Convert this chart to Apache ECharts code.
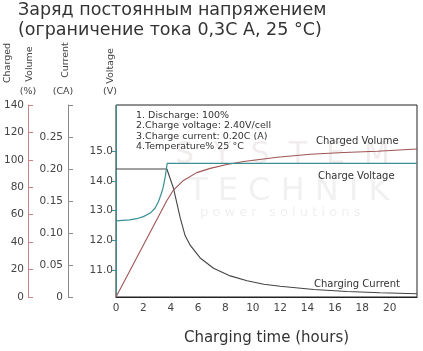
<!DOCTYPE html>
<html>
<head>
<meta charset="utf-8">
<script src="https://cdn.jsdelivr.net/npm/echarts@6/dist/echarts.min.js"></script>
<style>
  body { margin: 0; background: #fff; }
  #main { width: 423px; height: 351px; }
</style>
</head>
<body>
<div id="main"></div>
<script>
// часы / значения
var voltHours = [0, 1, 1.5, 2, 2.5, 2.85, 3.1, 3.27, 3.42, 3.52, 3.61, 3.68, 3.74, 22]
var voltValues = [12.66, 12.69, 12.73, 12.8, 12.92, 13.08, 13.3, 13.52, 13.73, 13.95, 14.17, 14.39, 14.59, 14.59]

var currHours = [0, 3.72, 4.2, 4.69, 5.05, 5.42, 6.15, 7.13, 8.35, 9.58, 10.8, 12.0, 14.45, 16.9, 19.3, 22]
var currValues = [0.2, 0.2, 0.17, 0.124, 0.096, 0.081, 0.061, 0.045, 0.033, 0.0255, 0.02, 0.0168, 0.0118, 0.0087, 0.0066, 0.005]

var volHours = [0, 3.7, 4.2, 4.93, 5.9, 6.89, 8.1, 9.33, 11.8, 14.2, 16.65, 19.1, 22]
var volValues = [0, 70, 78, 85, 90.7, 93.8, 96.6, 98.8, 101.9, 104.1, 105.4, 106.3, 107.9]

var voltTicks = [11, 12, 13, 14, 15]
var currTicks = [0, 0.05, 0.1, 0.15, 0.2, 0.25, 0.3]
var currLabels = [0, 0.05, 0.1, 0.15, 0.2, 0.25]

var notes = [
  '1. Discharge: 100%',
  '2.Charge voltage: 2.40V/cell',
  '3.Charge current: 0.20C (A)',
  '4.Temperature% 25 °C'
]

function pairs (xs, ys) {
  var out = []
  for (var i = 0; i < xs.length; i++) {
    out.push([xs[i], ys[i]])
  }
  return out
}

var font = 'DejaVu Sans'
var teal = '#3a8f95'
var red = '#a05454'
var dark = '#444'

var chart = echarts.init(document.getElementById('main'))
chart.setOption({
  animation: false,
  textStyle: { fontFamily: font },
  grid: {
    left: 116, right: 6, top: 105, bottom: 50,
    show: true, borderColor: '#222', borderWidth: 1
  },
  xAxis: {
    type: 'value',
    min: 0, max: 22, interval: 2,
    name: 'Charging time (hours)',
    nameLocation: 'middle',
    nameGap: 34,
    nameTextStyle: { fontSize: 15, color: '#333', fontFamily: font },
    axisLine: { lineStyle: { color: '#222' } },
    axisTick: { show: false },
    splitLine: { show: false },
    axisLabel: {
      color: '#444', fontSize: 10.5, margin: 6,
      formatter: function (v) { return v === 22 ? '' : v }
    }
  },
  yAxis: [
    { // напряжение
      type: 'value', position: 'left', offset: 0,
      min: 10.1, max: 16.55,
      axisLine: { show: true, lineStyle: { color: teal } },
      axisTick: { show: true, inside: false, length: 5, customValues: voltTicks, lineStyle: { color: teal } },
      axisLabel: {
        color: '#444', fontSize: 10.5, margin: 3, customValues: voltTicks,
        formatter: function (v) { return v.toFixed(1) }
      },
      splitLine: { show: false }
    },
    { // ток
      type: 'value', position: 'left', offset: 48,
      min: 0, max: 0.3,
      axisLine: { show: true, lineStyle: { color: '#8a8a8a' } },
      axisTick: { show: true, inside: true, length: 5, customValues: currTicks, lineStyle: { color: '#8a8a8a' } },
      axisLabel: {
        color: '#444', fontSize: 10.5, margin: 5, customValues: currLabels,
        formatter: function (v) { return v === 0 ? '0' : v.toFixed(2) }
      },
      splitLine: { show: false }
    },
    { // заряд %
      type: 'value', position: 'left', offset: 88,
      min: 0, max: 140, interval: 20,
      axisLine: { show: true, lineStyle: { color: '#c98585' } },
      axisTick: { show: true, inside: true, length: 5, lineStyle: { color: '#c98585' } },
      axisLabel: { color: '#444', fontSize: 10.5, margin: 4 },
      splitLine: { show: false }
    }
  ],
  series: [
    {
      name: 'Charge Voltage', type: 'line', yAxisIndex: 0,
      data: pairs(voltHours, voltValues),
      showSymbol: false, z: 3,
      lineStyle: { color: teal, width: 1.2 }
    },
    {
      name: 'Charging Current', type: 'line', yAxisIndex: 1,
      data: pairs(currHours, currValues),
      showSymbol: false, z: 2,
      lineStyle: { color: dark, width: 1.1 }
    },
    {
      name: 'Charged Volume', type: 'line', yAxisIndex: 2,
      data: pairs(volHours, volValues),
      showSymbol: false, z: 2,
      lineStyle: { color: red, width: 1.1 }
    }
  ],
  graphic: [
    // водяной знак
    { type: 'text', left: 175, top: 140, z: -1, silent: true,
      style: { text: 'S  Y  S  T  E  M', fontSize: 30, fontFamily: font, fill: '#f1eded' } },
    { type: 'text', left: 188, top: 176, z: -1, silent: true,
      style: { text: 'T E C H N I K', fontSize: 32, fontFamily: font, fill: '#f1f1f1' } },
    { type: 'text', left: 200, top: 206, z: -1, silent: true,
      style: { text: 'p o w e r   s o l u t i o n s', fontSize: 13, fontFamily: font, fill: '#f0f0f0' } },
    // заголовок
    { type: 'text', left: 18, top: 1,
      style: { text: 'Заряд постоянным напряжением', fontSize: 17.5, fontFamily: font, fill: '#333' } },
    { type: 'text', left: 18, top: 21,
      style: { text: '(ограничение тока 0,3С А, 25 °C)', fontSize: 17.5, fontFamily: font, fill: '#333' } },
    // подписи осей
    { type: 'text', x: 8, y: 63, rotation: Math.PI / 2,
      style: { text: 'Charged', fontSize: 9.5, fontFamily: font, fill: '#444', align: 'center', verticalAlign: 'middle' } },
    { type: 'text', x: 30, y: 64, rotation: Math.PI / 2,
      style: { text: 'Volume', fontSize: 9.5, fontFamily: font, fill: '#444', align: 'center', verticalAlign: 'middle' } },
    { type: 'text', x: 28, y: 92,
      style: { text: '(%)', fontSize: 9.5, fontFamily: font, fill: '#444', align: 'center', verticalAlign: 'middle' } },
    { type: 'text', x: 66, y: 60, rotation: Math.PI / 2,
      style: { text: 'Current', fontSize: 9.5, fontFamily: font, fill: '#444', align: 'center', verticalAlign: 'middle' } },
    { type: 'text', x: 63, y: 92,
      style: { text: '(CA)', fontSize: 9.5, fontFamily: font, fill: '#444', align: 'center', verticalAlign: 'middle' } },
    { type: 'text', x: 111, y: 66, rotation: Math.PI / 2,
      style: { text: 'Voltage', fontSize: 9.5, fontFamily: font, fill: '#444', align: 'center', verticalAlign: 'middle' } },
    { type: 'text', x: 110, y: 92,
      style: { text: '(V)', fontSize: 9.5, fontFamily: font, fill: '#444', align: 'center', verticalAlign: 'middle' } },
    // условия
    { type: 'text', left: 136, top: 110,
      style: { text: notes.join('\n'), fontSize: 9.5, lineHeight: 10.5, fontFamily: font, fill: '#333' } },
    // названия кривых
    { type: 'text', left: 316, top: 136,
      style: { text: 'Charged Volume', fontSize: 10, fontFamily: font, fill: '#333' } },
    { type: 'text', left: 318, top: 171,
      style: { text: 'Charge Voltage', fontSize: 10, fontFamily: font, fill: '#333' } },
    { type: 'text', left: 314, top: 279,
      style: { text: 'Charging Current', fontSize: 10, fontFamily: font, fill: '#333' } }
  ]
})
</script>
</body>
</html>
